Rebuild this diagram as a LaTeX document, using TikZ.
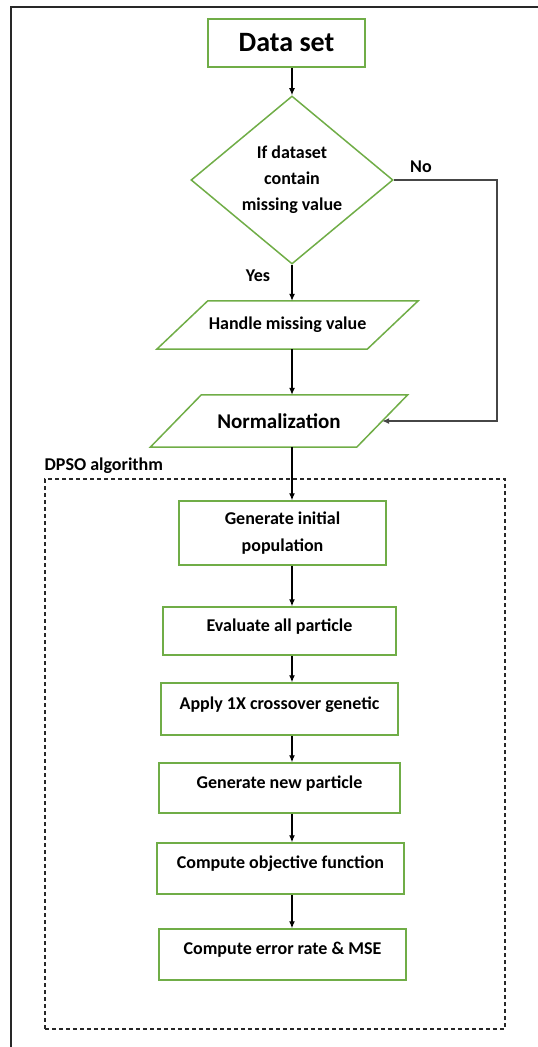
\documentclass[tikz,border=0pt]{standalone}
\usepackage{fontspec}
\setmainfont{Carlito}
\usetikzlibrary{arrows.meta,shapes.geometric}
\definecolor{boxgreen}{RGB}{112,173,71}
\definecolor{framegray}{RGB}{40,40,40}
\definecolor{nogray}{RGB}{70,70,70}

\begin{document}
\begin{tikzpicture}[>={Latex[length=7pt,width=6pt]},x=1pt,y=-1pt,
  font=\bfseries\fontsize{18}{21}\selectfont,
  stepbox/.style={draw=boxgreen,line width=1.5pt,inner sep=0pt},
  lowbox/.style={stepbox,text height=12pt,text depth=12pt},
  iobox/.style={inner sep=0pt},
  iooutline/.style={boxgreen,line width=1.5pt,line join=miter},
  flow/.style={->,line width=1.2pt}]
\def\slant{25.5pt}
\useasboundingbox (0,0) rectangle (538,1047);
\draw[framegray,line width=1.5pt] (11,1047) -- (11,7) -- (538,7);  % page frame
\node[stepbox,minimum width=157,minimum height=48,font=\bfseries\fontsize{28}{30}\selectfont] (data) at (286.5,43) {Data set};
\node[diamond,draw=boxgreen,line width=1.5pt,inner sep=0pt,minimum width=202,minimum height=154,align=center,font=\bfseries\fontsize{18}{26}\selectfont] (cond) at (292,180) {If dataset\\contain\\missing value};
\node[iobox,minimum width=210,minimum height=48] (handle) at (287.5,325) {Handle missing value};
\node[iobox,minimum width=206,minimum height=52,font=\bfseries\fontsize{21}{24}\selectfont] (norm) at (279,421) {Normalization};
\draw[iooutline] ([xshift=\slant]handle.north west) -- ([xshift=\slant]handle.north east) -- ([xshift=-\slant]handle.south east) -- ([xshift=-\slant]handle.south west) -- cycle;
\draw[iooutline] ([xshift=\slant]norm.north west) -- ([xshift=\slant]norm.north east) -- ([xshift=-\slant]norm.south east) -- ([xshift=-\slant]norm.south west) -- cycle;
\node (yes) at (258,276) {Yes};
\node (no) at (421,167) {No};
\coordinate (bend) at (497,180);
\node[draw=framegray,dashed,dash pattern=on 4pt off 3pt,line width=1.2pt,minimum width=460,minimum height=550] (dpso) at (275,754) {};
\node[anchor=base west,inner sep=0pt] (dpsolabel) at ([yshift=8pt]dpso.north west) {DPSO algorithm};
\node[stepbox,minimum width=207,minimum height=64,align=center,font=\bfseries\fontsize{18}{27}\selectfont] (init) at (282.5,533) {Generate initial\\population};
\node[lowbox,minimum width=233,minimum height=48] (eval) at (279.5,631) {Evaluate all particle};
\node[lowbox,minimum width=237,minimum height=52] (apply) at (279.5,709) {Apply 1X crossover genetic};
\node[lowbox,minimum width=241,minimum height=50] (newp) at (279.5,788) {Generate new particle};
\node[lowbox,minimum width=247,minimum height=51] (obj) at (280.5,868.5) {Compute objective function};
\node[lowbox,minimum width=247,minimum height=51] (err) at (282.5,954.5) {Compute error rate \& MSE};
\draw[flow] (data.south -| cond.north) -- (cond.north);
\draw[flow] (cond.south) -- (cond.south |- handle.north);
\draw[flow] (handle.south -| cond.south) -- (cond.south |- norm.north);
\draw[flow,nogray] (cond.east) -- (bend) |- (norm.east);
\draw[flow] (norm.south -| cond.south) -- (cond.south |- init.north);
\draw[flow] (init.south -| cond.south) -- (cond.south |- eval.north);
\draw[flow] (eval.south -| cond.south) -- (cond.south |- apply.north);
\draw[flow] (apply.south -| cond.south) -- (cond.south |- newp.north);
\draw[flow] (newp.south -| cond.south) -- (cond.south |- obj.north);
\draw[flow] (obj.south -| cond.south) -- (cond.south |- err.north);
\end{tikzpicture}
\end{document}
